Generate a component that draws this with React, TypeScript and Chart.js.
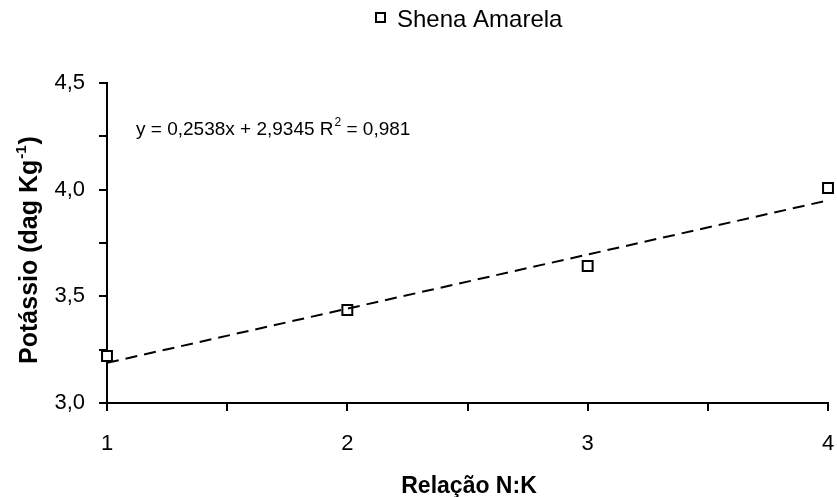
import React, { useEffect, useRef } from "react";
import { Chart, registerables } from "chart.js";

Chart.register(...registerables);

const categories = [1, 2, 3, 4];
const shenaAmarela = [3.22, 3.436, 3.642, 4.008];
const trendSlope = 0.2538;
const trendIntercept = 2.9345;
const seriesName = "Shena Amarela";
const equationText = "y = 0,2538x + 2,9345 R";
const equationR2 = " = 0,981";
const xTitle = "Relação N:K";
const yTitleMain = "Potássio (dag Kg";
const yTitleSup = "-1";
const yTitleEnd = ")";

const FONT = "'Liberation Sans', Arial, sans-serif";

const textPlugin = {
  id: "customText",
  afterDraw(chart: any) {
    const ctx = chart.ctx as CanvasRenderingContext2D;
    ctx.save();
    ctx.fillStyle = "#000";
    ctx.textBaseline = "alphabetic";
    // legend
    ctx.lineWidth = 2;
    ctx.strokeStyle = "#000";
    ctx.fillStyle = "#fff";
    ctx.fillRect(376, 13, 9, 9);
    ctx.strokeRect(376, 13, 9, 9);
    ctx.fillStyle = "#000";
    ctx.font = `24px ${FONT}`;
    ctx.textAlign = "left";
    ctx.fillText(seriesName, 397, 27);
    // equation
    ctx.font = `19px ${FONT}`;
    ctx.fillText(equationText, 136, 135);
    const w = ctx.measureText(equationText).width;
    ctx.font = `12px ${FONT}`;
    ctx.fillText("2", 136 + w + 1, 126);
    const w2 = ctx.measureText("2").width;
    ctx.font = `19px ${FONT}`;
    ctx.fillText(equationR2, 136 + w + w2 + 1, 135);
    // x title
    ctx.font = `bold 23px ${FONT}`;
    ctx.textAlign = "center";
    ctx.fillText(xTitle, 469, 493);
    // y title
    ctx.translate(37, 250);
    ctx.rotate(-Math.PI / 2);
    ctx.font = `bold 25px ${FONT}`;
    const m1 = ctx.measureText(yTitleMain).width;
    ctx.font = `bold 15px ${FONT}`;
    const m2 = ctx.measureText(yTitleSup).width;
    ctx.font = `bold 25px ${FONT}`;
    const m3 = ctx.measureText(yTitleEnd).width;
    const total = m1 + m2 + 2 + m3;
    let x = -total / 2;
    ctx.textAlign = "left";
    ctx.fillText(yTitleMain, x, 0);
    x += m1 + 1;
    ctx.font = `bold 15px ${FONT}`;
    ctx.fillText(yTitleSup, x, -11);
    x += m2 + 1;
    ctx.font = `bold 25px ${FONT}`;
    ctx.fillText(yTitleEnd, x, 0);
    ctx.restore();
  },
};

export default function App() {
  const ref = useRef<HTMLCanvasElement>(null);
  useEffect(() => {
    if (!ref.current) return;
    const xs = [categories[0], categories[categories.length - 1]];
    const trend = xs.map((x) => ({ x, y: trendSlope * x + trendIntercept }));
    const chart = new Chart(ref.current, {
      type: "scatter",
      data: {
        datasets: [
          {
            type: "line" as any,
            label: "trend",
            data: trend,
            borderColor: "#000",
            borderWidth: 2,
            borderDash: [12, 7],
            pointRadius: 0,
            fill: false,
          },
          {
            label: seriesName,
            data: categories.map((c, i) => ({ x: c, y: shenaAmarela[i] })),
            pointStyle: "rect",
            pointRadius: 7,
            borderColor: "#000",
            backgroundColor: "#fff",
            borderWidth: 2,
            clip: false as any,
          },
        ],
      },
      options: {
        responsive: false,
        animation: false,
        layout: { padding: { top: 83, right: 9, left: 0, bottom: 0 } },
        plugins: {
          legend: { display: false },
          tooltip: { enabled: false },
        },
        scales: {
          x: {
            type: "linear",
            min: 1,
            max: 4,
            border: { color: "#000", width: 2 },
            grid: { drawOnChartArea: false, color: "#000", lineWidth: 2, tickLength: 8 },
            ticks: {
              stepSize: 0.5,
              color: "#000",
              padding: 20,
              font: { family: FONT, size: 22 },
              maxRotation: 0,
              callback: (v: any) => (Number.isInteger(Number(v)) ? String(v) : ""),
            },
            afterFit: (s: any) => {
              s.height = 94;
              s.paddingLeft = 0;
              s.paddingRight = 0;
            },
          },
          y: {
            min: 3,
            max: 4.5,
            border: { color: "#000", width: 2 },
            grid: { drawOnChartArea: false, color: "#000", lineWidth: 2, tickLength: 8 },
            ticks: {
              stepSize: 0.25,
              color: "#000",
              padding: 14,
              font: { family: FONT, size: 22 },
              callback: (v: any) => {
                const n = Number(v);
                return Math.abs(n * 2 - Math.round(n * 2)) < 1e-6 ? n.toFixed(1).replace(".", ",") : "";
              },
            },
            afterFit: (s: any) => {
              s.width = 107;
              s.paddingTop = 0;
              s.paddingBottom = 0;
            },
          },
        },
      },
      plugins: [textPlugin],
    });
    return () => chart.destroy();
  }, []);
  return (
    <div style={{ position: "absolute", left: 0, top: 0, width: 837, height: 497, background: "#fff" }}>
      <canvas ref={ref} width={837} height={497} style={{ display: "block" }} />
    </div>
  );
}
